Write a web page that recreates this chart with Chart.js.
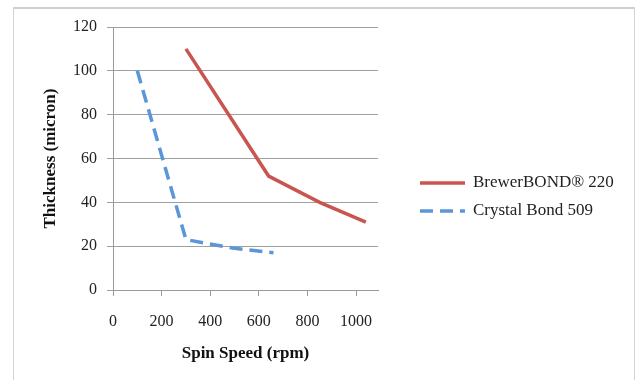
<!DOCTYPE html>
<html>
<head>
<meta charset="utf-8">
<script src="https://cdn.jsdelivr.net/npm/chart.js@4"></script>
<style>
  html, body { margin: 0; padding: 0; background: #fff; }
  #wrap { position: relative; width: 636px; height: 380px; overflow: hidden; }
  #frame {
    position: absolute; left: 13px; top: 7px; width: 620px; height: 380px;
    border: 1px solid #d4d4d4; border-top: 2px solid #cfcfcf; pointer-events: none;
  }
  canvas { position: absolute; left: 0; top: 0; }
</style>
</head>
<body>
<div id="wrap">
  <canvas id="chart" width="636" height="380"></canvas>
  <div id="frame"></div>
</div>
<script>
// Spin curves
const brewerSpeed = [300, 640, 850, 1040];
const brewerThickness = [110, 52, 40, 31];
const crystalSpeed = [100, 300, 500, 660];
const crystalThickness = [100, 23, 19, 17];
const xTicks = [0, 200, 400, 600, 800, 1000];
const yTicks = [0, 20, 40, 60, 80, 100, 120];

const SERIF = '"Liberation Serif", "DejaVu Serif", serif';

const toPoints = (xs, ys) => xs.map((x, i) => ({ x: x, y: ys[i] }));

// simple legend drawn to the right of the plot, like the Excel original
const sideLegend = {
  id: 'sideLegend',
  afterDraw(chart) {
    const ctx = chart.ctx;
    const x0 = 420, lineLen = 45, rowGap = 28, yStart = 183;
    ctx.save();
    chart.data.datasets.forEach((ds, i) => {
      const y = yStart + i * rowGap;
      ctx.beginPath();
      ctx.setLineDash(ds.borderDash || []);
      ctx.strokeStyle = ds.borderColor;
      ctx.lineWidth = ds.borderWidth;
      ctx.moveTo(x0, y);
      ctx.lineTo(x0 + lineLen, y);
      ctx.stroke();
      ctx.setLineDash([]);
      ctx.fillStyle = '#222';
      ctx.font = '17px ' + SERIF;
      ctx.textBaseline = 'middle';
      ctx.fillText(ds.label, x0 + lineLen + 8, y);
    });
    ctx.restore();
  }
};

new Chart(document.getElementById('chart'), {
  type: 'scatter',
  data: {
    datasets: [
      {
        label: 'BrewerBOND® 220',
        data: toPoints(brewerSpeed, brewerThickness),
        showLine: true,
        borderColor: '#C8554F',
        backgroundColor: '#C8554F',
        borderWidth: 3.5,
        pointRadius: 0,
        tension: 0
      },
      {
        label: 'Crystal Bond 509',
        data: toPoints(crystalSpeed, crystalThickness),
        showLine: true,
        borderColor: '#5A96D8',
        backgroundColor: '#5A96D8',
        borderWidth: 3.5,
        borderDash: [13, 7],
        pointRadius: 0,
        tension: 0
      }
    ]
  },
  options: {
    responsive: false,
    animation: false,
    layout: { padding: { left: 36, top: 27, right: 258, bottom: 12 } },
    plugins: {
      legend: { display: false },
      tooltip: { enabled: false }
    },
    scales: {
      x: {
        type: 'linear',
        min: 0,
        max: 1090,
        afterBuildTicks: (scale) => { scale.ticks = xTicks.map(v => ({ value: v })); },
        afterFit: (scale) => { scale.height = 380 - 290 - 12; },
        grid: { drawOnChartArea: false, color: '#9a9a9a', tickLength: 6 },
        border: { color: '#9a9a9a' },
        ticks: {
          color: '#222', font: { family: SERIF, size: 16 }, padding: 16, maxRotation: 0,
          callback: (v) => String(v)
        },
        title: {
          display: true,
          text: 'Spin Speed (rpm)',
          color: '#111',
          font: { family: SERIF, size: 17, weight: 'bold' },
          padding: { top: 3 }
        }
      },
      y: {
        min: 0,
        max: 120,
        afterBuildTicks: (scale) => { scale.ticks = yTicks.map(v => ({ value: v })); },
        afterFit: (scale) => { scale.width = 113 - 36; },
        grid: { color: '#a0a0a0', tickLength: 6 },
        border: { color: '#9a9a9a' },
        ticks: { color: '#222', font: { family: SERIF, size: 16 }, padding: 10 },
        title: {
          display: true,
          text: 'Thickness (micron)',
          color: '#111',
          font: { family: SERIF, size: 17, weight: 'bold' },
          padding: { bottom: 0 }
        }
      }
    }
  },
  plugins: [sideLegend]
});
</script>
</body>
</html>
